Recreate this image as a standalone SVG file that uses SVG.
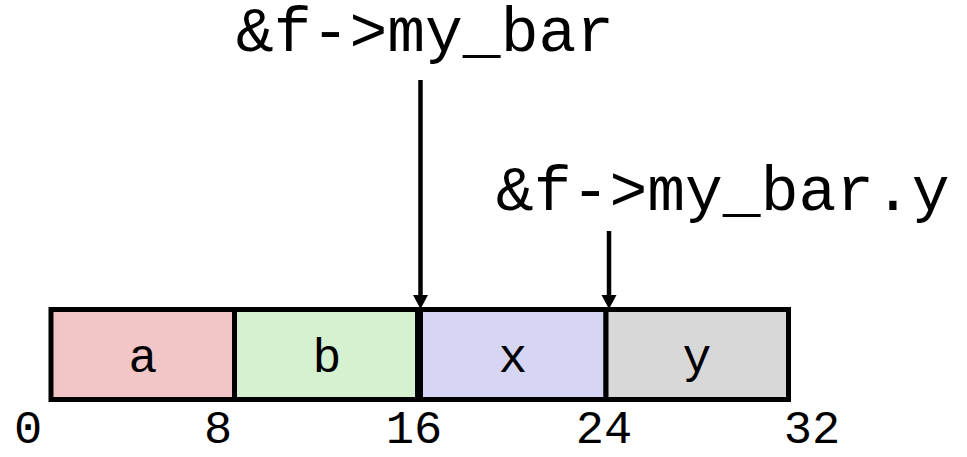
<svg xmlns="http://www.w3.org/2000/svg" width="967" height="457" viewBox="0 0 967 457">
<style>
.t{font-family:"Courier New","Liberation Mono",monospace;fill:#000}
.big{font-size:63px}
.mid{font-size:48px;text-anchor:middle}
.num{font-size:47px;text-anchor:middle}
.cell{stroke:#000;stroke-width:5}
.conn{stroke:#000;stroke-width:4.5;fill:none}
</style>
<rect width="967" height="457" fill="#fff"/>
<g id="node-a"><rect class="cell" x="51" y="309.5" width="183.5" height="90" fill="#f2c6c7"/><text class="t mid" x="143" y="372">a</text></g>
<g id="node-b"><rect class="cell" x="234.5" y="309.5" width="184.5" height="90" fill="#d5f1d0"/><text class="t mid" x="327" y="372">b</text></g>
<g id="node-x"><rect class="cell" x="419" y="309.5" width="187" height="90" fill="#d6d6f4"/><text class="t mid" x="513" y="372">x</text></g>
<g id="node-y"><rect class="cell" x="606" y="309.5" width="182.5" height="90" fill="#d8d8d8"/><text class="t mid" x="697" y="372">y</text></g>
<line x1="419" y1="309.5" x2="419" y2="399.5" stroke="#000" stroke-width="8"/>
<g id="label-bar"><text class="t big" x="236" y="51">&amp;f-&gt;my_bar</text></g>
<g id="label-bar-y"><text class="t big" x="496" y="210">&amp;f-&gt;my_bar.y</text></g>
<g id="offsets">
<text class="t num" x="28" y="443">0</text>
<text class="t num" x="218" y="443">8</text>
<text class="t num" x="414" y="443">16</text>
<text class="t num" x="604" y="443">24</text>
<text class="t num" x="812" y="443">32</text>
</g>
<g id="connectors">
<path class="conn" d="M420.5,80 V296"/>
<path d="M413,295 L428,295 L420.5,309 Z" fill="#000"/>
<path class="conn" d="M609,231 V296"/>
<path d="M601.5,295 L616.5,295 L609,309 Z" fill="#000"/>
</g>
</svg>
